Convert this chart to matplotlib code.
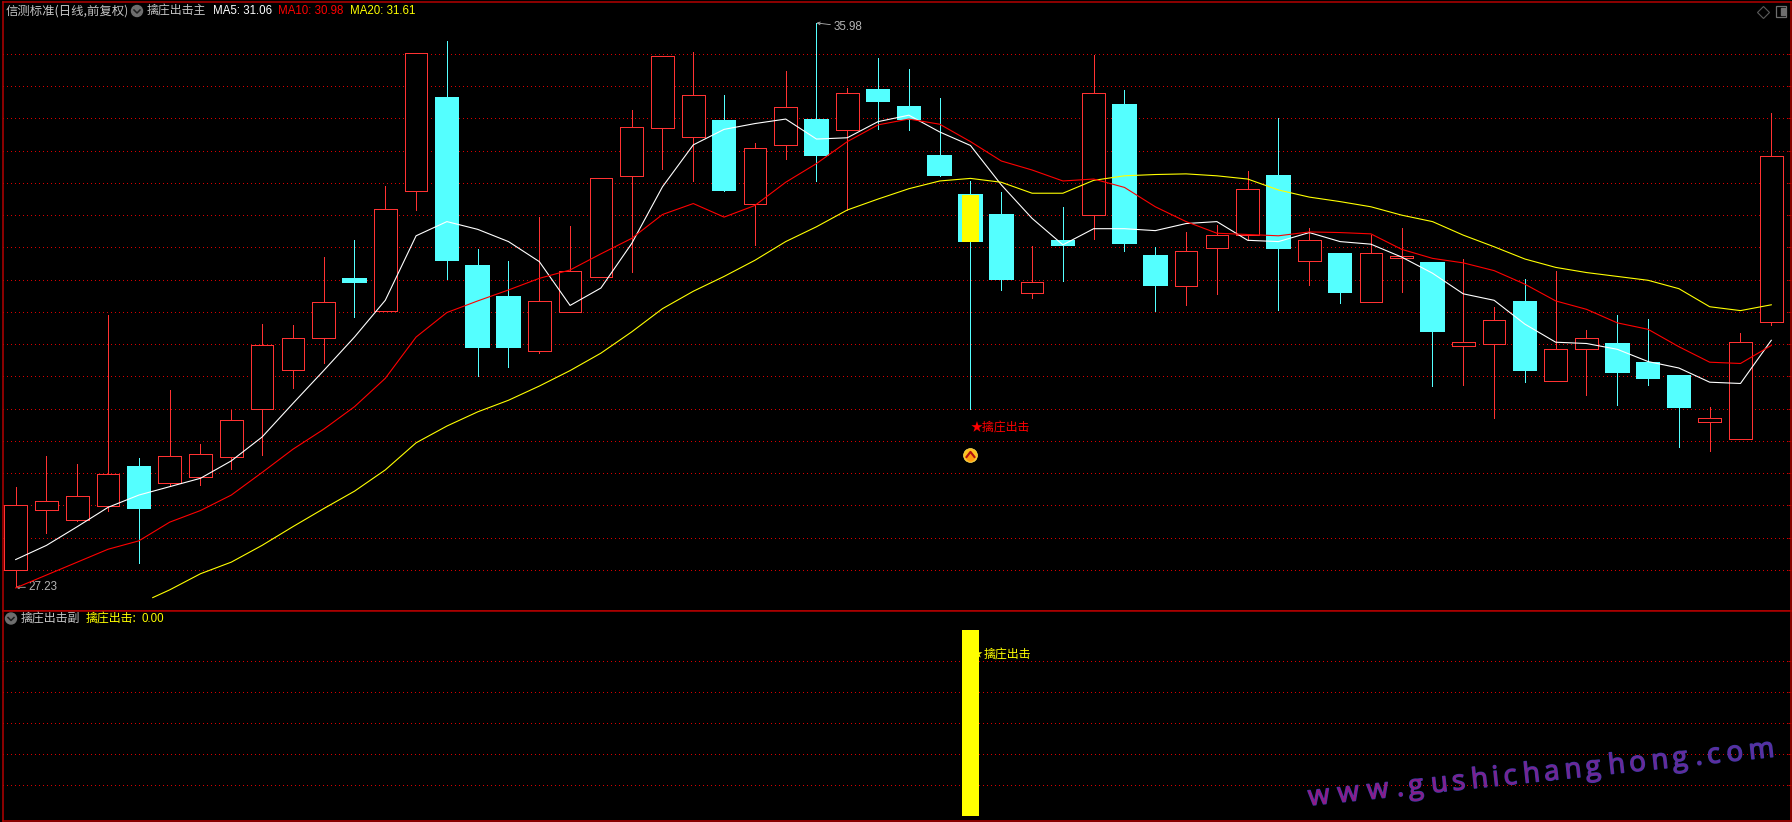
import matplotlib
matplotlib.use("Agg")
import matplotlib.pyplot as plt
import matplotlib.patheffects as pe
from matplotlib.font_manager import FontProperties
from matplotlib.patches import Circle, Rectangle
from matplotlib.textpath import TextPath
import numpy as np

plt.rcParams['font.family'] = ['Noto Sans CJK SC', 'DejaVu Sans']

W, H = 1792, 822

opens = [27.50, 28.43, 28.27, 28.49, 29.09, 28.85, 28.94, 29.25, 29.99, 30.60,
         31.10, 32.01, 31.52, 33.38, 34.82, 32.21, 31.73, 30.90, 31.50, 32.04,
         33.60, 34.35, 34.21, 34.46, 33.18, 34.09, 34.47, 34.32, 34.94, 34.68,
         33.92, 33.31, 33.00, 31.80, 32.60, 33.01, 34.71, 32.37, 31.90, 32.49,
         32.70, 33.61, 32.29, 32.40, 31.66, 32.33, 32.26, 30.97, 31.00, 31.65,
         30.43, 30.93, 31.00, 30.70, 30.50, 29.79, 29.53, 31.35]
closes = [28.50, 28.57, 28.65, 28.99, 28.46, 29.26, 29.29, 29.82, 30.98, 31.09,
          31.66, 31.96, 33.10, 35.52, 32.30, 30.95, 30.95, 31.67, 32.14, 33.57,
          34.36, 35.46, 34.86, 33.39, 34.04, 34.67, 33.93, 34.90, 34.77, 34.49,
          33.62, 32.60, 32.01, 31.96, 32.54, 34.90, 32.57, 31.92, 32.45, 32.70,
          33.40, 32.49, 32.61, 31.81, 32.42, 32.37, 31.20, 31.03, 31.38, 30.60,
          30.92, 31.10, 30.57, 30.47, 30.02, 29.85, 31.04, 33.91]
highs = [28.78, 29.26, 29.14, 31.45, 29.23, 30.29, 29.45, 29.98, 31.31, 31.29,
         32.35, 32.61, 33.45, 35.52, 35.70, 32.47, 32.29, 32.97, 32.83, 33.57,
         34.63, 35.46, 35.53, 34.86, 34.12, 35.24, 35.98, 34.97, 35.44, 35.27,
         34.82, 33.53, 33.36, 32.52, 33.13, 35.48, 34.94, 32.50, 32.74, 32.85,
         33.68, 34.51, 32.80, 32.41, 32.69, 32.80, 32.27, 32.32, 31.57, 32.01,
         32.13, 31.22, 31.45, 31.39, 30.52, 30.02, 31.17, 34.58]
lows = [27.23, 28.07, 28.26, 28.41, 27.60, 28.80, 28.81, 29.06, 29.28, 30.32,
        30.71, 31.42, 31.52, 33.08, 32.01, 30.50, 30.64, 30.87, 31.50, 32.04,
        32.12, 33.72, 33.53, 33.37, 32.54, 33.87, 33.53, 33.08, 34.34, 34.32,
        33.60, 30.00, 31.84, 31.72, 31.98, 32.63, 32.44, 31.52, 31.60, 31.78,
        32.61, 31.53, 31.92, 31.64, 31.66, 31.81, 30.35, 30.36, 29.85, 30.41,
        30.43, 30.21, 30.05, 30.36, 29.40, 29.34, 29.53, 31.29]

ma5 = [27.66, 27.88, 28.17, 28.47, 28.66, 28.79, 28.92, 29.19, 29.56, 30.08,
       30.59, 31.11, 31.68, 32.68, 32.90, 32.78, 32.59, 32.28, 31.60, 31.87,
       32.56, 33.44, 34.09, 34.33, 34.42, 34.49, 34.18, 34.20, 34.45, 34.55,
       34.29, 34.08, 33.47, 32.95, 32.54, 32.79, 32.79, 32.76, 32.87, 32.90,
       32.61, 32.59, 32.73, 32.59, 32.55, 32.35, 32.10, 31.78, 31.68, 31.31,
       31.03, 31.01, 30.92, 30.73, 30.63, 30.41, 30.39, 31.06]
ma10 = [27.22, 27.42, 27.62, 27.82, 27.95, 28.24, 28.42, 28.66, 29.01, 29.37,
        29.68, 30.03, 30.47, 31.11, 31.49, 31.67, 31.84, 32.02, 32.15, 32.40,
        32.64, 33.01, 33.18, 32.97, 33.15, 33.51, 33.80, 34.14, 34.40, 34.49,
        34.41, 34.14, 33.84, 33.70, 33.53, 33.56, 33.43, 33.13, 32.90, 32.72,
        32.70, 32.68, 32.74, 32.73, 32.71, 32.47, 32.33, 32.26, 32.14, 31.93,
        31.67, 31.54, 31.33, 31.23, 30.96, 30.72, 30.70, 30.98]
ma20_x = [4.45] + list(range(5, 58))
ma20 = [27.07, 27.19, 27.44, 27.62, 27.88, 28.17, 28.45, 28.72, 29.05, 29.47,
        29.73, 29.95, 30.13, 30.35, 30.59, 30.86, 31.19, 31.55, 31.82, 32.05,
        32.30, 32.59, 32.82, 33.08, 33.25, 33.41, 33.53, 33.57, 33.51, 33.34,
        33.34, 33.54, 33.61, 33.63, 33.64, 33.61, 33.56, 33.39, 33.28, 33.21,
        33.13, 33.00, 32.90, 32.69, 32.51, 32.32, 32.19, 32.11, 32.05, 31.99,
        31.86, 31.58, 31.52, 31.61]

price_grid = [27.5, 28, 28.5, 29, 29.5, 30, 30.5, 31, 31.5, 32, 32.5, 33, 33.5, 34, 34.5, 35, 35.5]
sub_grid = [0.167, 0.333, 0.5, 0.667, 0.833]

signal_idx = 31
signal_top, signal_bottom = 33.31, 32.59
signal_bar = 1.0
signal_text_price = 29.70
signal_icon_price = 29.28

RED = '#ff3232'
CYAN = '#54ffff'
GRID = '#d80000'
BORDER = '#b40000'
NUM_FONT = ['Liberation Sans', 'DejaVu Sans']


def fx(x):
    return x / W


def fy(y):
    return 1 - y / H


fig = plt.figure(figsize=(W / 100, H / 100), dpi=100, facecolor='black')
ax = fig.add_axes([fx(3), fy(610.5), fx(1791) - fx(3), fy(2) - fy(610.5)], facecolor='black')
ax_sub = fig.add_axes([fx(3), fy(820.5), fx(1791) - fx(3), fy(610.5) - fy(820.5)], facecolor='black')

x = np.arange(len(opens))
xlim = (-0.412, 57.64)

for a in (ax, ax_sub):
    a.set_xlim(*xlim)
    a.set_xticks([])
    for s in a.spines.values():
        s.set_color(BORDER)
        s.set_linewidth(1.1)
    a.yaxis.tick_right()
    a.tick_params(axis='y', direction='in', length=2, width=0.7, color=BORDER, labelright=False)
    a.grid(True, axis='y', color=GRID, linewidth=0.72, linestyle=(0, (1, 3.3)), antialiased=False)
    a.set_axisbelow(True)

ax.set_ylim(26.87, 36.305)
ax.set_yticks(price_grid)
ax_sub.set_ylim(-0.024, 1.105)
ax_sub.set_yticks(sub_grid)

# candles
o = np.array(opens)
c = np.array(closes)
up = c >= o
bar_w = 0.73
for i in x:
    col = RED if up[i] else CYAN
    ax.vlines(i, lows[i], highs[i], color=col, linewidth=0.72, zorder=2, antialiased=False)
ax.bar(x[up], (c - o)[up], bottom=o[up], width=bar_w, facecolor='black', edgecolor=RED,
       linewidth=0.65, zorder=3, antialiased=False)
ax.bar(x[~up], (c - o)[~up], bottom=o[~up], width=bar_w, facecolor=CYAN, edgecolor=CYAN,
       linewidth=0.3, zorder=3, antialiased=False)
ax.bar([signal_idx], [signal_top - signal_bottom], bottom=[signal_bottom], width=0.55,
       color='#ffff00', zorder=4, antialiased=False)

ax.plot(x, ma5, color='white', linewidth=0.8, zorder=5)
ax.plot(x, ma10, color='#ff0000', linewidth=0.8, zorder=6)
ax.plot(ma20_x, ma20, color='#ffff00', linewidth=0.8, zorder=5)

# high / low labels
ax.annotate('35.98', xy=(26, 35.98), xytext=(12, -7), textcoords='offset points', color='#b4b4b4',
            fontsize=8.4, family=NUM_FONT, va='bottom',
            arrowprops=dict(arrowstyle='->', color='#b4b4b4', lw=0.6, shrinkA=0, shrinkB=0, mutation_scale=5))
ax.annotate('27.23', xy=(0, 27.23), xytext=(9, 0), textcoords='offset points', color='#b4b4b4',
            fontsize=8.4, family=NUM_FONT, va='center',
            arrowprops=dict(arrowstyle='->', color='#b4b4b4', lw=0.6, shrinkA=0, shrinkB=0, mutation_scale=5))

# signal mark
ax.text(signal_idx, signal_text_price, '★擒庄出击', color='#ff0000', fontsize=8.6, va='center', ha='left', zorder=7)
ax.plot([signal_idx], [signal_icon_price], 'o', ms=10, mfc='#ffc21e', mec='#ffe060', mew=0.5, zorder=7)
ax.plot([signal_idx], [signal_icon_price - 0.03], 'o', ms=6, mfc='#ff9a10', mec='none', zorder=8)
ax.plot([signal_idx - 0.13, signal_idx, signal_idx + 0.13],
        [signal_icon_price - 0.03, signal_icon_price + 0.05, signal_icon_price - 0.03],
        color='#b01010', linewidth=1.5, zorder=9)

# lower panel
ax_sub.bar([signal_idx], [signal_bar], width=0.55, color='#ffff00', zorder=3, antialiased=False)
ax_sub.text(31.38, 0.87, '★', color='#ffff00', fontsize=7, va='center', ha='right', zorder=2)
fig.text(fx(983.5), fy(655), '擒庄出击', color='#ffff00', fontsize=8.6, va='center', ha='left')

# header text
GREY = '#c4c4c4'
fig.text(fx(6), fy(11), '信测标准(日线,前复权)', color=GREY, fontsize=8.9, va='center')
fig.text(fx(147), fy(11), '擒庄出击主', color=GREY, fontsize=8.6, va='center')
fig.text(fx(213), fy(11), 'MA5: 31.06', color='white', fontsize=8.3, family=NUM_FONT, va='center')
fig.text(fx(278), fy(11), 'MA10: 30.98', color='#ff0000', fontsize=8.3, family=NUM_FONT, va='center')
fig.text(fx(350), fy(11), 'MA20: 31.61', color='#ffff00', fontsize=8.3, family=NUM_FONT, va='center')

fig.text(fx(21), fy(619), '擒庄出击副', color=GREY, fontsize=8.6, va='center')
fig.text(fx(86), fy(619), '擒庄出击:', color='#ffff00', fontsize=8.6, va='center')
fig.text(fx(141), fy(619), '0.00', color='#ffff00', fontsize=8.3, family=NUM_FONT, va='center')

# small round collapse icons, drawn in pixels
overlay = fig.add_axes([0, 0, 1, 1], facecolor='none')
overlay.set_xlim(0, W)
overlay.set_ylim(H, 0)
overlay.axis('off')
for cx, cy in [(137, 11), (11, 618.5)]:
    overlay.add_patch(Circle((cx, cy), 5.5, color='#6e6e6e'))
    overlay.plot([cx - 3, cx, cx + 3], [cy - 1, cy + 2, cy - 1], color='#1e1e1e', linewidth=1.1)
overlay.plot([1762.5], [11.7], 'D', ms=6.5, mfc='none', mec='#5a5a5a', mew=0.8)
overlay.add_patch(Rectangle((1775.5, 6.5), 10.5, 10.5, fill=False, edgecolor='#6e6e6e', linewidth=0.9))
overlay.add_patch(Rectangle((1781, 8), 3.5, 7.5, color='#6e6e6e'))

# watermark
site = 'www.gushichanghong.com'
wm_fp = FontProperties(family='Open Sans', size=20)
angle = 6.0
px_x, px_y = 1309.0, 805.5
gap = 8.7
n = len(site)
for k, ch in enumerate(site):
    t = k / (n - 1)
    col = (0.58 - 0.22 * t, 0.10 + 0.08 * t, 0.52 + 0.10 * t)
    overlay.text(px_x, px_y, ch, color=col, fontproperties=wm_fp, rotation=angle, rotation_mode='anchor',
                 ha='left', va='baseline',
                 path_effects=[pe.withStroke(linewidth=1.0, foreground='#3c3ca8')])
    adv = TextPath((0, 0), ch, size=27.8, prop=wm_fp).get_extents().width + gap
    px_x += adv * np.cos(np.radians(angle))
    px_y -= adv * np.sin(np.radians(angle))

fig.savefig('out.png', dpi=100, facecolor='black')
